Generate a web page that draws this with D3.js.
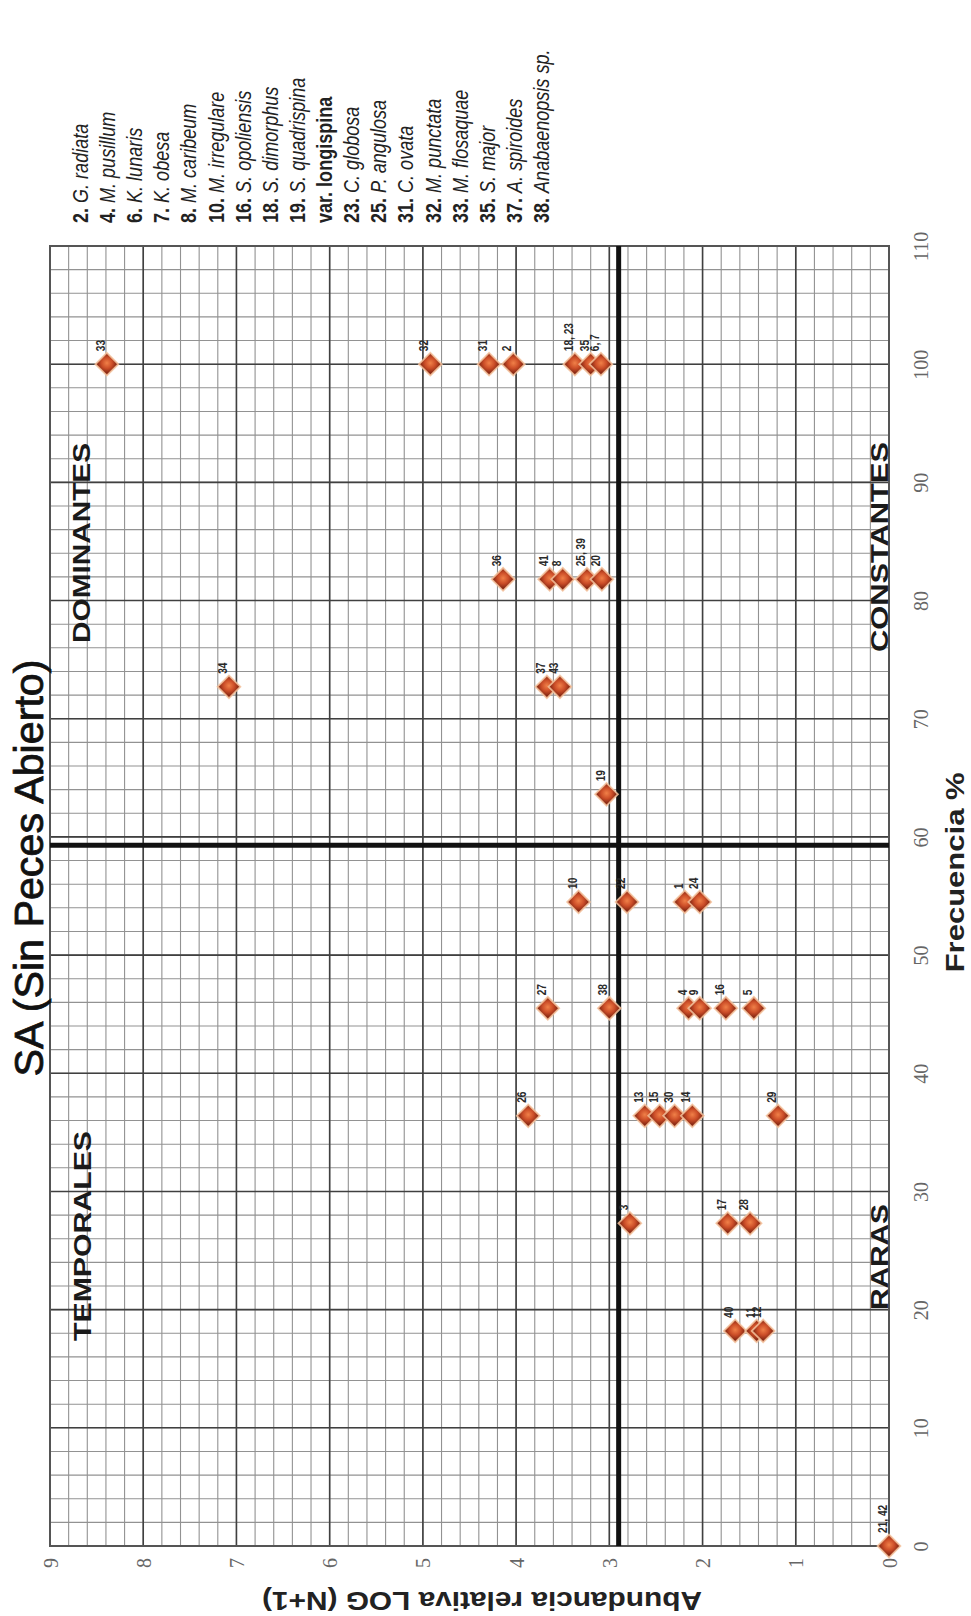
<!DOCTYPE html>
<html>
<head>
<meta charset="utf-8">
<script src="https://cdn.jsdelivr.net/npm/d3@7"></script>
<style>
  body { margin: 0; background: #fff; }
  svg { display: block; }
</style>
</head>
<body>
<div id="chart"></div>
<script>
// species points: label, frequency (%), relative abundance LOG(N+1)
var pointLabels = ["33","32","31","2","18, 23","35","6, 7",
                   "36","41","8","25, 39","20",
                   "34","37","43",
                   "19",
                   "10","22","1","24",
                   "27","38","4","9","16","5",
                   "26","13","15","30","14","29",
                   "3","17","28",
                   "40","11","12",
                   "21, 42"];
var frequency = [100,100,100,100,100,100,100,
                 81.8,81.8,81.8,81.8,81.8,
                 72.7,72.7,72.7,
                 63.6,
                 54.5,54.5,54.5,54.5,
                 45.5,45.5,45.5,45.5,45.5,45.5,
                 36.4,36.4,36.4,36.4,36.4,36.4,
                 27.3,27.3,27.3,
                 18.2,18.2,18.2,
                 0];
var abundance = [8.39,4.92,4.29,4.03,3.37,3.20,3.09,
                 4.14,3.64,3.50,3.24,3.08,
                 7.08,3.67,3.53,
                 3.03,
                 3.33,2.81,2.19,2.03,
                 3.66,3.00,2.15,2.03,1.75,1.45,
                 3.87,2.62,2.46,2.30,2.11,1.19,
                 2.78,1.73,1.49,
                 1.65,1.42,1.35,
                 0];

// mean lines that split the quadrants
var cutAbundance = 2.9;
var cutFrequency = 59.3;

var freqTicks = [0,10,20,30,40,50,60,70,80,90,100,110];
var abundTicks = [0,1,2,3,4,5,6,7,8,9];

var quadrantNames = ["DOMINANTES","CONSTANTES","TEMPORALES","RARAS"];

var legendNumbers = ["2.","4.","6.","7.","8.","10.","16.","18.","19.","var.",
                     "23.","25.","31.","32.","33.","35.","37.","38."];
var legendNames = ["G. radiata","M. pusillum","K. lunaris","K. obesa","M. caribeum",
                   "M. irregulare","S. opoliensis","S. dimorphus","S. quadrispina",
                   "longispina","C. globosa","P. angulosa","C. ovata","M. punctata",
                   "M. flosaquae","S. major","A. spiroides","Anabaenopsis sp."];

var W = 971, H = 1616;
var svg = d3.select("#chart").append("svg")
    .attr("width", W)
    .attr("height", H)
    .style("background", "#fff");

// the whole figure is turned a quarter turn: frequency runs up, abundance runs left
var x = d3.scaleLinear().domain([0, 9]).range([889, 50]);
var y = d3.scaleLinear().domain([0, 110]).range([1546, 246]);

var grid = svg.append("g");

// minor grid
grid.selectAll(".vminor")
    .data(d3.range(0, 46).map(function (i) { return i * 0.2; }))
    .enter().append("line")
    .attr("x1", function (d) { return x(d); })
    .attr("x2", function (d) { return x(d); })
    .attr("y1", y(0)).attr("y2", y(110))
    .style("stroke", "#929292").style("stroke-width", 1.1);
grid.selectAll(".hminor")
    .data(d3.range(0, 56).map(function (i) { return i * 2; }))
    .enter().append("line")
    .attr("y1", function (d) { return y(d); })
    .attr("y2", function (d) { return y(d); })
    .attr("x1", x(0)).attr("x2", x(9))
    .style("stroke", "#929292").style("stroke-width", 1.1);

// major grid
grid.selectAll(".vmajor")
    .data(abundTicks)
    .enter().append("line")
    .attr("x1", function (d) { return x(d); })
    .attr("x2", function (d) { return x(d); })
    .attr("y1", y(0)).attr("y2", y(110))
    .style("stroke", "#404040").style("stroke-width", 1.6);
grid.selectAll(".hmajor")
    .data(freqTicks)
    .enter().append("line")
    .attr("y1", function (d) { return y(d); })
    .attr("y2", function (d) { return y(d); })
    .attr("x1", x(0)).attr("x2", x(9))
    .style("stroke", "#404040").style("stroke-width", 1.6);

grid.append("rect")
    .attr("x", x(9)).attr("y", y(110))
    .attr("width", x(0) - x(9)).attr("height", y(0) - y(110))
    .style("fill", "none").style("stroke", "#555").style("stroke-width", 2);

// quadrant dividers
svg.append("line")
    .attr("x1", x(cutAbundance)).attr("x2", x(cutAbundance))
    .attr("y1", y(0)).attr("y2", y(110))
    .style("stroke", "#111").style("stroke-width", 5);
svg.append("line")
    .attr("x1", x(0)).attr("x2", x(9))
    .attr("y1", y(cutFrequency)).attr("y2", y(cutFrequency))
    .style("stroke", "#111").style("stroke-width", 5);

// frequency axis (labels on the right)
var fAxis = svg.append("g")
    .attr("transform", "translate(" + x(0) + ",0)")
    .call(d3.axisRight(y).tickValues(freqTicks).tickSize(0));
fAxis.select(".domain").remove();
fAxis.selectAll("text")
    .attr("x", null).attr("dy", null)
    .attr("text-anchor", "middle")
    .attr("transform", "translate(39,0) rotate(-90)")
    .style("font-family", "'Liberation Serif', 'DejaVu Serif', serif")
    .style("font-size", "20px")
    .style("fill", "#666");

// abundance axis (labels at the bottom)
var aAxis = svg.append("g")
    .attr("transform", "translate(0," + y(0) + ")")
    .call(d3.axisBottom(x).tickValues(abundTicks).tickSize(0));
aAxis.select(".domain").remove();
aAxis.selectAll("text")
    .attr("y", null).attr("dy", null)
    .attr("text-anchor", "middle")
    .attr("transform", "translate(7,17) rotate(-90)")
    .style("font-family", "'Liberation Serif', 'DejaVu Serif', serif")
    .style("font-size", "20px")
    .style("fill", "#666");

// axis titles
svg.append("text")
    .attr("transform", "translate(964," + y(57) + ") rotate(-90)")
    .attr("text-anchor", "middle")
    .attr("textLength", 200).attr("lengthAdjust", "spacingAndGlyphs")
    .style("font-family", "'Liberation Sans', Arial, sans-serif")
    .style("font-weight", "bold")
    .style("font-size", "26px")
    .style("fill", "#222")
    .text("Frecuencia %");

svg.append("text")
    .attr("transform", "translate(482,1592) rotate(180)")
    .attr("text-anchor", "middle")
    .attr("textLength", 440).attr("lengthAdjust", "spacingAndGlyphs")
    .style("font-family", "'Liberation Sans', Arial, sans-serif")
    .style("font-weight", "bold")
    .style("font-size", "25px")
    .style("fill", "#222")
    .text("Abundancia relativa LOG (N+1)");

// title
svg.append("text")
    .attr("transform", "translate(43,868) rotate(-90)")
    .attr("text-anchor", "middle")
    .attr("textLength", 417).attr("lengthAdjust", "spacingAndGlyphs")
    .style("font-family", "'Liberation Sans', Arial, sans-serif")
    .style("font-size", "41px")
    .style("fill", "#111")
    .style("stroke", "#111").style("stroke-width", 0.8)
    .text("SA (Sin Peces Abierto)");

// quadrant names
var quadrantPlaces = [
    {bx: 90, cy: 543, len: 200},
    {bx: 888, cy: 547, len: 210},
    {bx: 91, cy: 1236, len: 210},
    {bx: 888, cy: 1257, len: 106}
];
svg.selectAll(".quad")
    .data(quadrantNames)
    .enter().append("text")
    .attr("transform", function (d, i) {
        return "translate(" + quadrantPlaces[i].bx + "," + quadrantPlaces[i].cy + ") rotate(-90)";
    })
    .attr("text-anchor", "middle")
    .attr("textLength", function (d, i) { return quadrantPlaces[i].len; })
    .attr("lengthAdjust", "spacingAndGlyphs")
    .style("font-family", "'Liberation Sans', Arial, sans-serif")
    .style("font-weight", "bold")
    .style("font-size", "24px")
    .style("fill", "#1a1a1a")
    .text(function (d) { return d; });

// diamonds
var defs = svg.append("defs");
var grad = defs.append("radialGradient").attr("id", "dia")
    .attr("cx", "45%").attr("cy", "45%").attr("r", "60%");
grad.append("stop").attr("offset", "0%").attr("stop-color", "#f08048");
grad.append("stop").attr("offset", "55%").attr("stop-color", "#cc4e28");
grad.append("stop").attr("offset", "100%").attr("stop-color", "#8a2a14");

var points = pointLabels.map(function (d, i) {
    return {label: d, f: frequency[i], a: abundance[i]};
});

var diamond = d3.symbol().type(d3.symbolSquare).size(260);

svg.selectAll(".pt")
    .data(points)
    .enter().append("path")
    .attr("d", diamond)
    .attr("transform", function (d) {
        return "translate(" + x(d.a) + "," + y(d.f) + ") rotate(45)";
    })
    .style("fill", "url(#dia)")
    .style("stroke", "#f4c29c")
    .style("stroke-width", 1.8)
    .style("stroke-opacity", 0.85);

svg.selectAll(".pl")
    .data(points)
    .enter().append("text")
    .attr("transform", function (d) {
        return "translate(" + (x(d.a) - 2) + "," + (y(d.f) - 13) + ") rotate(-90) scale(0.78,1)";
    })
    .style("font-family", "'Liberation Sans', Arial, sans-serif")
    .style("font-weight", "bold")
    .style("font-size", "13px")
    .style("fill", "#2a2a2a")
    .text(function (d) { return d.label; });

// species legend, top left
var legendX = d3.scaleLinear().domain([0, legendNames.length - 1]).range([88, 549]);
var leg = svg.selectAll(".leg")
    .data(legendNames)
    .enter().append("text")
    .attr("transform", function (d, i) {
        return "translate(" + legendX(i) + ",223) rotate(-90) scale(0.82,1)";
    })
    .style("font-family", "'Liberation Sans', Arial, sans-serif")
    .style("font-weight", "bold")
    .style("font-size", "22px")
    .style("fill", "#222");
leg.append("tspan")
    .text(function (d, i) { return legendNumbers[i] + " "; });
leg.append("tspan")
    .style("font-style", function (d) { return d === "longispina" ? "normal" : "italic"; })
    .style("font-weight", function (d) { return d === "longispina" ? "bold" : "normal"; })
    .text(function (d) { return d; });
</script>
</body>
</html>
